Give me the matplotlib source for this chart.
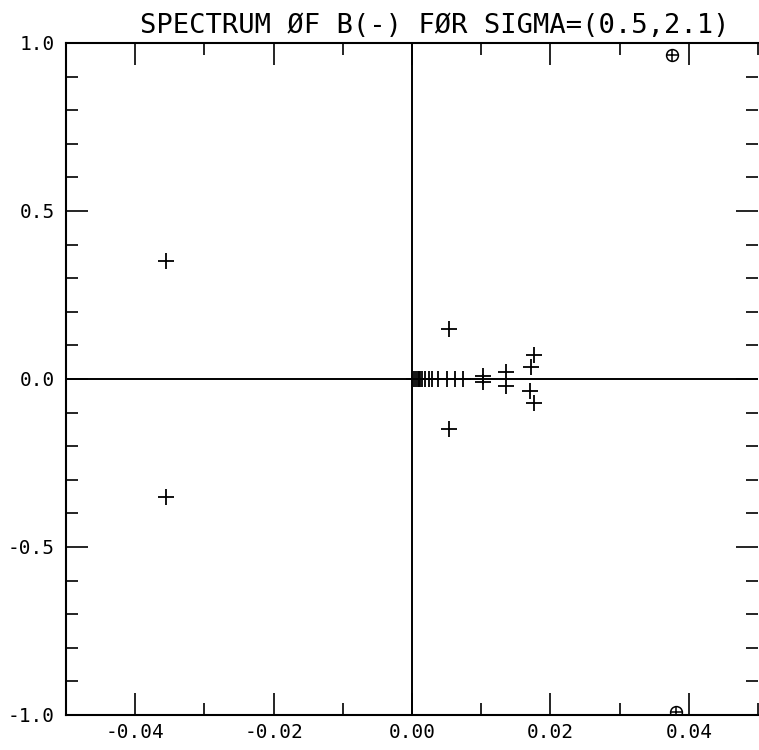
import matplotlib
matplotlib.use("Agg")
import matplotlib.pyplot as plt
from matplotlib.ticker import MultipleLocator

re_plus = [-0.0356, -0.0356, 0.0054, 0.0054,
           0.00036, 0.00058, 0.0008, 0.0010, 0.0012, 0.0015, 0.0019,
           0.0024, 0.0029, 0.0038, 0.0051, 0.0062, 0.0073,
           0.0102, 0.0102, 0.0136, 0.0136,
           0.0176, 0.0172, 0.0170, 0.0176]
im_plus = [0.35, -0.35, 0.149, -0.149,
           0.0, 0.0, 0.0, 0.0, 0.0, 0.0, 0.0,
           0.0, 0.0, 0.0, 0.0, 0.0, 0.0,
           0.0085, -0.0085, 0.02, -0.02,
           0.071, 0.036, -0.036, -0.071]

re_circ = [0.0376, 0.0382]
im_circ = [0.965, -0.99]

x_ticks = [-0.04, -0.02, 0.00, 0.02, 0.04]
x_labels = ["-0.04", "-0.02", "0.00", "0.02", "0.04"]
y_ticks = [-1.0, -0.5, 0.0, 0.5, 1.0]
y_labels = ["-1.0", "-0.5", "0.0", "0.5", "1.0"]

font = "DejaVu Sans Mono"

fig = plt.figure(figsize=(7.59, 7.50), dpi=100)
ax = fig.add_axes([66 / 759, 35 / 750, 692 / 759, 672 / 750])

ax.set_xlim(-0.05, 0.05)
ax.set_ylim(-1.0, 1.0)

ax.axhline(0, color="black", lw=1.4)
ax.axvline(0, color="black", lw=1.4)

ax.plot(re_plus, im_plus, ls="none", marker="+", ms=11, mew=1.3, color="black")
ax.plot(re_circ, im_circ, ls="none", marker="o", ms=8.5, mew=1.1,
        mfc="none", mec="black")
ax.plot(re_circ, im_circ, ls="none", marker="+", ms=8.5, mew=1.1, color="black")

ax.set_xticks(x_ticks)
ax.set_xticklabels(x_labels, fontfamily=font, fontsize=14)
ax.set_yticks(y_ticks)
ax.set_yticklabels(y_labels, fontfamily=font, fontsize=14)
ax.xaxis.set_minor_locator(MultipleLocator(0.01))
ax.yaxis.set_minor_locator(MultipleLocator(0.1))

ax.tick_params(which="both", direction="in", top=True, right=True, width=1.2,
               color="black")
ax.tick_params(which="major", length=16)
ax.tick_params(which="minor", length=8.5)
ax.tick_params(axis="x", which="major", pad=6)
ax.tick_params(axis="y", which="major", pad=8)

for side in ["left", "bottom", "top"]:
    ax.spines[side].set_linewidth(1.5)
ax.spines["right"].set_visible(False)

fig.text(435 / 759, 1 - 33 / 750, "SPECTRUM ØF B(-) FØR SIGMA=(0.5,2.1)",
         ha="center", va="baseline", fontfamily=font, fontsize=19.5)

fig.savefig("out.png", dpi=100)
